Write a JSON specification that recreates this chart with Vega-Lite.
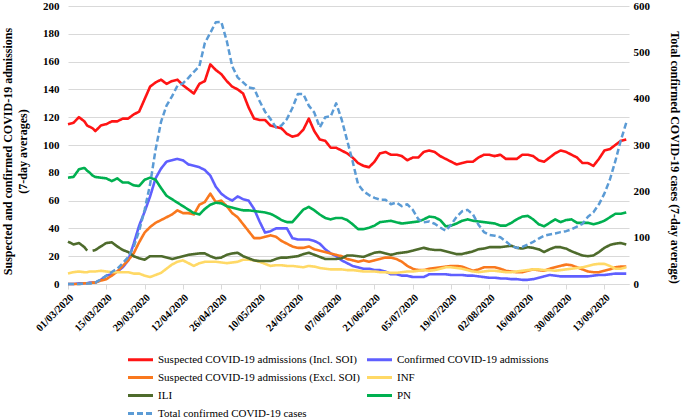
{
"$schema": "https://vega.github.io/schema/vega-lite/v6.json",
"autosize": {"type": "none"},
"width": 561, "height": 278,
"padding": {"left": 68, "top": 6, "right": 56, "bottom": 134},
"background": "white",
"config": {"font": "Liberation Serif", "view": {"stroke": null}, "axis": {"labelColor": "#000", "titleColor": "#000", "labelFontWeight": "bold", "titleFontWeight": "bold"}, "line": {"strokeJoin": "round"}},
"data": {"values": [
{"d":"2020-03-01","R":115,"B":0,"O":0,"Y":7.5,"I":30.5,"P":76.5,"T":0},
{"d":"2020-03-03","R":116,"B":0,"O":0,"Y":8.5,"I":28.5,"P":77,"T":0},
{"d":"2020-03-05","R":120,"B":0.5,"O":0,"Y":9,"I":29.5,"P":82.5,"T":0},
{"d":"2020-03-07","R":117,"B":0.5,"O":0.5,"Y":8.5,"I":26.5,"P":83.5,"T":1},
{"d":"2020-03-08","R":114,"B":0.5,"O":0.5,"Y":8.5,"I":24,"P":81.5,"T":1},
{"d":"2020-03-09","R":113,"B":1,"O":0.5,"Y":9,"I":null,"P":80,"T":1},
{"d":"2020-03-10","R":112,"B":1,"O":1,"Y":9,"I":24,"P":78,"T":2},
{"d":"2020-03-11","R":110,"B":1,"O":1,"Y":9,"I":24.5,"P":77,"T":3},
{"d":"2020-03-13","R":114,"B":3,"O":2.5,"Y":9.5,"I":27,"P":76.5,"T":10},
{"d":"2020-03-15","R":115,"B":6,"O":3.5,"Y":9,"I":29.5,"P":76,"T":18},
{"d":"2020-03-17","R":117,"B":7,"O":6,"Y":8.5,"I":30,"P":74,"T":26},
{"d":"2020-03-19","R":117,"B":9,"O":9,"Y":8.5,"I":27,"P":76,"T":33},
{"d":"2020-03-21","R":119,"B":12,"O":13,"Y":8.5,"I":24.5,"P":73,"T":45},
{"d":"2020-03-23","R":119,"B":17,"O":17,"Y":8.5,"I":23,"P":73,"T":58},
{"d":"2020-03-25","R":122,"B":29,"O":22,"Y":7.5,"I":20,"P":71,"T":80},
{"d":"2020-03-27","R":124,"B":42,"O":30,"Y":7.5,"I":18.5,"P":70.5,"T":115},
{"d":"2020-03-29","R":133,"B":52,"O":37,"Y":6,"I":17.5,"P":75,"T":160},
{"d":"2020-03-31","R":142,"B":63,"O":41,"Y":5,"I":20,"P":76.5,"T":215},
{"d":"2020-04-02","R":145,"B":76,"O":44,"Y":6.5,"I":20,"P":75,"T":290},
{"d":"2020-04-04","R":147,"B":83,"O":46,"Y":8,"I":20,"P":69,"T":350},
{"d":"2020-04-06","R":144,"B":88,"O":48,"Y":11,"I":19,"P":63.5,"T":385},
{"d":"2020-04-08","R":146,"B":89,"O":50,"Y":14,"I":18,"P":61,"T":405},
{"d":"2020-04-10","R":147,"B":90,"O":53,"Y":16,"I":19,"P":58.5,"T":428},
{"d":"2020-04-12","R":143,"B":89,"O":51,"Y":17,"I":20,"P":56,"T":433},
{"d":"2020-04-14","R":140,"B":86,"O":51,"Y":15,"I":21,"P":53.5,"T":445},
{"d":"2020-04-16","R":137,"B":85,"O":50,"Y":13,"I":21.5,"P":51,"T":458},
{"d":"2020-04-18","R":144,"B":84,"O":57,"Y":15,"I":22,"P":50,"T":470},
{"d":"2020-04-20","R":146,"B":82,"O":59,"Y":16,"I":22,"P":54,"T":520},
{"d":"2020-04-22","R":158,"B":78,"O":65,"Y":16,"I":20,"P":57,"T":542},
{"d":"2020-04-24","R":154,"B":70,"O":59,"Y":16,"I":18.5,"P":58.5,"T":565},
{"d":"2020-04-26","R":151,"B":65,"O":60,"Y":15.5,"I":19,"P":58,"T":566},
{"d":"2020-04-28","R":146,"B":62,"O":56,"Y":15,"I":21,"P":56,"T":525},
{"d":"2020-04-30","R":142,"B":60,"O":51,"Y":15.5,"I":22,"P":55,"T":470},
{"d":"2020-05-02","R":140,"B":63,"O":48,"Y":16,"I":22.5,"P":54,"T":446},
{"d":"2020-05-04","R":137,"B":61,"O":43,"Y":17.5,"I":20,"P":53,"T":435},
{"d":"2020-05-06","R":127,"B":60,"O":38,"Y":17.5,"I":18.5,"P":53,"T":424},
{"d":"2020-05-08","R":119,"B":54,"O":33,"Y":17,"I":17,"P":52.5,"T":422},
{"d":"2020-05-10","R":118,"B":45,"O":33,"Y":16,"I":16.5,"P":52,"T":395},
{"d":"2020-05-12","R":118,"B":37,"O":34,"Y":14.5,"I":16.5,"P":51.5,"T":372},
{"d":"2020-05-14","R":114,"B":38,"O":35,"Y":13,"I":16.5,"P":50.5,"T":356},
{"d":"2020-05-16","R":113,"B":40,"O":34,"Y":13.5,"I":18,"P":48.5,"T":338},
{"d":"2020-05-18","R":112,"B":40,"O":31,"Y":13.5,"I":19,"P":46,"T":342},
{"d":"2020-05-20","R":108,"B":40,"O":29,"Y":13,"I":19,"P":44.5,"T":356},
{"d":"2020-05-22","R":106,"B":33,"O":27,"Y":13,"I":19.5,"P":44.5,"T":380},
{"d":"2020-05-24","R":107,"B":32,"O":26,"Y":12.5,"I":20,"P":49,"T":410},
{"d":"2020-05-26","R":111,"B":32,"O":26,"Y":12,"I":21.5,"P":53.5,"T":410},
{"d":"2020-05-28","R":119,"B":32,"O":27,"Y":13,"I":22.5,"P":55.5,"T":385},
{"d":"2020-05-30","R":110,"B":31,"O":25,"Y":12.5,"I":21,"P":53,"T":370},
{"d":"2020-06-01","R":104,"B":29,"O":24,"Y":11.5,"I":19.5,"P":50,"T":338},
{"d":"2020-06-03","R":103,"B":25,"O":23,"Y":11,"I":18,"P":47.5,"T":360},
{"d":"2020-06-05","R":98,"B":22,"O":22,"Y":10.5,"I":18,"P":46.5,"T":362},
{"d":"2020-06-07","R":98,"B":20,"O":21,"Y":10.5,"I":18,"P":47.5,"T":390},
{"d":"2020-06-09","R":96,"B":17,"O":20,"Y":10.5,"I":18.5,"P":47.5,"T":355},
{"d":"2020-06-11","R":94,"B":15,"O":18,"Y":10,"I":20.5,"P":46,"T":310},
{"d":"2020-06-13","R":91,"B":13,"O":17,"Y":10,"I":20.5,"P":43,"T":265},
{"d":"2020-06-15","R":87,"B":12,"O":16,"Y":9.5,"I":20,"P":39.5,"T":215},
{"d":"2020-06-17","R":85,"B":11,"O":17,"Y":9,"I":19.5,"P":39.5,"T":200},
{"d":"2020-06-19","R":84,"B":11,"O":16,"Y":9,"I":21,"P":40.5,"T":192},
{"d":"2020-06-21","R":88,"B":10,"O":17,"Y":9,"I":22.5,"P":42,"T":186},
{"d":"2020-06-23","R":94,"B":10,"O":18,"Y":8.5,"I":23,"P":44.5,"T":182},
{"d":"2020-06-25","R":95,"B":9,"O":19,"Y":8.5,"I":22,"P":45,"T":182},
{"d":"2020-06-27","R":93,"B":7,"O":19,"Y":8,"I":21,"P":45.5,"T":172},
{"d":"2020-06-29","R":93,"B":7,"O":18,"Y":8,"I":22,"P":44.5,"T":176},
{"d":"2020-07-01","R":92,"B":6,"O":16,"Y":8.5,"I":22.5,"P":43.5,"T":168},
{"d":"2020-07-03","R":89,"B":6,"O":13,"Y":9,"I":23,"P":44,"T":172},
{"d":"2020-07-05","R":91,"B":5,"O":11,"Y":9,"I":24,"P":44.5,"T":160},
{"d":"2020-07-07","R":91,"B":5,"O":10,"Y":9.5,"I":25,"P":45,"T":140},
{"d":"2020-07-09","R":95,"B":5,"O":10,"Y":10,"I":26,"P":46.5,"T":133},
{"d":"2020-07-11","R":96,"B":7,"O":11,"Y":9.5,"I":25,"P":48.5,"T":135},
{"d":"2020-07-13","R":95,"B":7,"O":11.5,"Y":10,"I":24.5,"P":48,"T":130},
{"d":"2020-07-15","R":92,"B":7,"O":12,"Y":11,"I":24.5,"P":46,"T":122},
{"d":"2020-07-17","R":90,"B":7,"O":12.5,"Y":12,"I":23.5,"P":41.5,"T":115},
{"d":"2020-07-19","R":88,"B":6.5,"O":13,"Y":12,"I":22.5,"P":42,"T":128},
{"d":"2020-07-21","R":86,"B":6.5,"O":13,"Y":11.5,"I":21.5,"P":43.5,"T":145},
{"d":"2020-07-23","R":87,"B":6.5,"O":12.5,"Y":11,"I":21.5,"P":45.5,"T":157},
{"d":"2020-07-25","R":88,"B":6,"O":11,"Y":10,"I":22.5,"P":46.5,"T":160},
{"d":"2020-07-27","R":88,"B":6,"O":9.5,"Y":9,"I":23.5,"P":45.5,"T":150},
{"d":"2020-07-29","R":91,"B":5.5,"O":10.5,"Y":8.5,"I":25,"P":45,"T":128},
{"d":"2020-07-31","R":93,"B":5,"O":12,"Y":9,"I":25.5,"P":44.5,"T":112},
{"d":"2020-08-02","R":93,"B":4.5,"O":12,"Y":9.5,"I":26.5,"P":44,"T":106},
{"d":"2020-08-04","R":92,"B":4.5,"O":12,"Y":9.5,"I":26.5,"P":43.5,"T":104},
{"d":"2020-08-06","R":93,"B":4,"O":11,"Y":9,"I":26.5,"P":42,"T":101},
{"d":"2020-08-08","R":90,"B":4,"O":9.5,"Y":8.5,"I":27,"P":42,"T":92},
{"d":"2020-08-10","R":90,"B":3.5,"O":9,"Y":8.5,"I":27.5,"P":44,"T":82},
{"d":"2020-08-12","R":90,"B":3.5,"O":8.5,"Y":9,"I":26,"P":46.5,"T":78},
{"d":"2020-08-14","R":93,"B":3,"O":8.5,"Y":9.5,"I":25.5,"P":48.5,"T":80},
{"d":"2020-08-16","R":93,"B":3,"O":9.5,"Y":10,"I":26.5,"P":49,"T":85},
{"d":"2020-08-18","R":92,"B":3.5,"O":10.5,"Y":10.5,"I":26,"P":46.5,"T":91},
{"d":"2020-08-20","R":89,"B":4.5,"O":10,"Y":10.5,"I":25,"P":43,"T":98},
{"d":"2020-08-22","R":88,"B":5.5,"O":9.5,"Y":10,"I":23,"P":41.5,"T":104},
{"d":"2020-08-24","R":91,"B":6.5,"O":11,"Y":10,"I":25,"P":44,"T":107},
{"d":"2020-08-26","R":94,"B":6,"O":12,"Y":9.5,"I":26.5,"P":46.5,"T":109},
{"d":"2020-08-28","R":96,"B":5.5,"O":13,"Y":10,"I":26.5,"P":44.5,"T":112},
{"d":"2020-08-30","R":95,"B":5.5,"O":14,"Y":10.5,"I":25.5,"P":46,"T":114},
{"d":"2020-09-01","R":93,"B":5.5,"O":13.5,"Y":11,"I":23.5,"P":46.5,"T":118},
{"d":"2020-09-03","R":91,"B":5.5,"O":12,"Y":11.5,"I":22,"P":44,"T":124},
{"d":"2020-09-05","R":87,"B":5.5,"O":10.5,"Y":12,"I":20.5,"P":44,"T":130},
{"d":"2020-09-07","R":87,"B":5.5,"O":9,"Y":13,"I":20,"P":44,"T":145},
{"d":"2020-09-09","R":85,"B":6,"O":8.5,"Y":14,"I":20.5,"P":43,"T":155},
{"d":"2020-09-11","R":90,"B":6.5,"O":8.5,"Y":14.5,"I":23,"P":44,"T":172},
{"d":"2020-09-13","R":96,"B":6.5,"O":9.5,"Y":14.5,"I":26,"P":45.5,"T":195},
{"d":"2020-09-15","R":97,"B":7,"O":10.5,"Y":13,"I":28,"P":48,"T":225},
{"d":"2020-09-17","R":100,"B":7.5,"O":12,"Y":11,"I":29,"P":50.5,"T":265},
{"d":"2020-09-19","R":103,"B":7.5,"O":12.5,"Y":11,"I":29.5,"P":50.5,"T":310},
{"d":"2020-09-21","R":104,"B":7.5,"O":12.5,"Y":12,"I":28.5,"P":51.5,"T":348}
]},
"transform": [{"fold": ["R","B","O","Y","I","P","T"], "as": ["s","v"]}],
"encoding": {
  "x": {"field": "d", "type": "temporal",
    "scale": {"type": "utc", "domain": [{"year":2020,"month":3,"date":1,"utc":true},{"year":2020,"month":9,"date":22,"utc":true}]},
    "axis": {"title": null, "format": "%d/%m/%Y", "labelAngle": -45, "labelFontSize": 10.5, "labelPadding": 3, "ticks": true, "tickSize": 5, "tickColor": "#d9d9d9", "domainColor": "#d9d9d9", "grid": false, "labelOverlap": false, "labelBound": false, "labelFlush": false,
      "values": [
        {"year":2020,"month":3,"date":1,"utc":true},{"year":2020,"month":3,"date":15,"utc":true},{"year":2020,"month":3,"date":29,"utc":true},
        {"year":2020,"month":4,"date":12,"utc":true},{"year":2020,"month":4,"date":26,"utc":true},{"year":2020,"month":5,"date":10,"utc":true},
        {"year":2020,"month":5,"date":24,"utc":true},{"year":2020,"month":6,"date":7,"utc":true},{"year":2020,"month":6,"date":21,"utc":true},
        {"year":2020,"month":7,"date":5,"utc":true},{"year":2020,"month":7,"date":19,"utc":true},{"year":2020,"month":8,"date":2,"utc":true},
        {"year":2020,"month":8,"date":16,"utc":true},{"year":2020,"month":8,"date":30,"utc":true},{"year":2020,"month":9,"date":13,"utc":true}]}},
  "color": {"field": "s", "type": "nominal",
    "scale": {"domain": ["R","O","I","T","B","Y","P"], "range": ["#ff1414","#f9781e","#4e6b2c","#5b9bd5","#5f5fff","#ffd966","#00b050"]},
    "legend": {"orient": "none", "legendX": 67, "legendY": 348, "columns": 2, "title": null, "symbolType": "M-3.125,0H3.125", "symbolSize": 64, "symbolStrokeWidth": 3, "labelOffset": 12, "labelFont": "Liberation Serif", "labelFontSize": 11, "labelColor": "#000", "labelLimit": 400, "rowPadding": 6, "columnPadding": 5,
      "labelExpr": "datum.label == 'R' ? 'Suspected COVID-19 admissions (Incl. SOI)' : datum.label == 'B' ? 'Confirmed COVID-19 admissions' : datum.label == 'O' ? 'Suspected COVID-19 admissions (Excl. SOI)' : datum.label == 'Y' ? 'INF' : datum.label == 'I' ? 'ILI' : datum.label == 'P' ? 'PN' : 'Total confirmed COVID-19 cases'"}},
  "strokeDash": {"field": "s", "type": "nominal",
    "scale": {"domain": ["R","O","I","T","B","Y","P"], "range": [[1,0],[1,0],[1,0],[6,3],[1,0],[1,0],[1,0]]},
    "legend": {"orient": "none", "legendX": 67, "legendY": 348, "columns": 2, "title": null, "symbolType": "M-3.125,0H3.125", "symbolSize": 64, "symbolStrokeWidth": 3, "labelOffset": 12, "labelFont": "Liberation Serif", "labelFontSize": 11, "labelColor": "#000", "labelLimit": 400, "rowPadding": 6, "columnPadding": 5,
      "labelExpr": "datum.label == 'R' ? 'Suspected COVID-19 admissions (Incl. SOI)' : datum.label == 'B' ? 'Confirmed COVID-19 admissions' : datum.label == 'O' ? 'Suspected COVID-19 admissions (Excl. SOI)' : datum.label == 'Y' ? 'INF' : datum.label == 'I' ? 'ILI' : datum.label == 'P' ? 'PN' : 'Total confirmed COVID-19 cases'"}}
},
"layer": [
  {"transform": [{"filter": "datum.s != 'T'"}],
   "mark": {"type": "line", "strokeWidth": 2.6},
   "encoding": {"y": {"field": "v", "type": "quantitative",
     "scale": {"domain": [0, 200], "nice": false},
     "axis": {"values": [0,20,40,60,80,100,120,140,160,180,200], "grid": true, "gridColor": "#d9d9d9", "gridWidth": 1, "domain": false, "ticks": false, "labelFontSize": 11, "labelPadding": 9,
       "title": ["Suspected and confirmed COVID-19 admissions", "(7-day averages)"], "titleFontSize": 12, "titlePadding": 13, "titleLineHeight": 15.5, "titleY": 145}}}},
  {"transform": [{"filter": "datum.s == 'T'"}],
   "mark": {"type": "line", "strokeWidth": 2.5},
   "encoding": {"y": {"field": "v", "type": "quantitative",
     "scale": {"domain": [0, 600], "nice": false},
     "axis": {"orient": "right", "values": [0,100,200,300,400,500,600], "grid": false, "domain": false, "ticks": false, "labelFontSize": 11, "labelPadding": 4,
       "title": "Total confirmed COVID-19 cases (7-day average)", "titleFontSize": 12, "titlePadding": 18, "titleY": 151}}}}
],
"resolve": {"scale": {"y": "independent"}}
}
